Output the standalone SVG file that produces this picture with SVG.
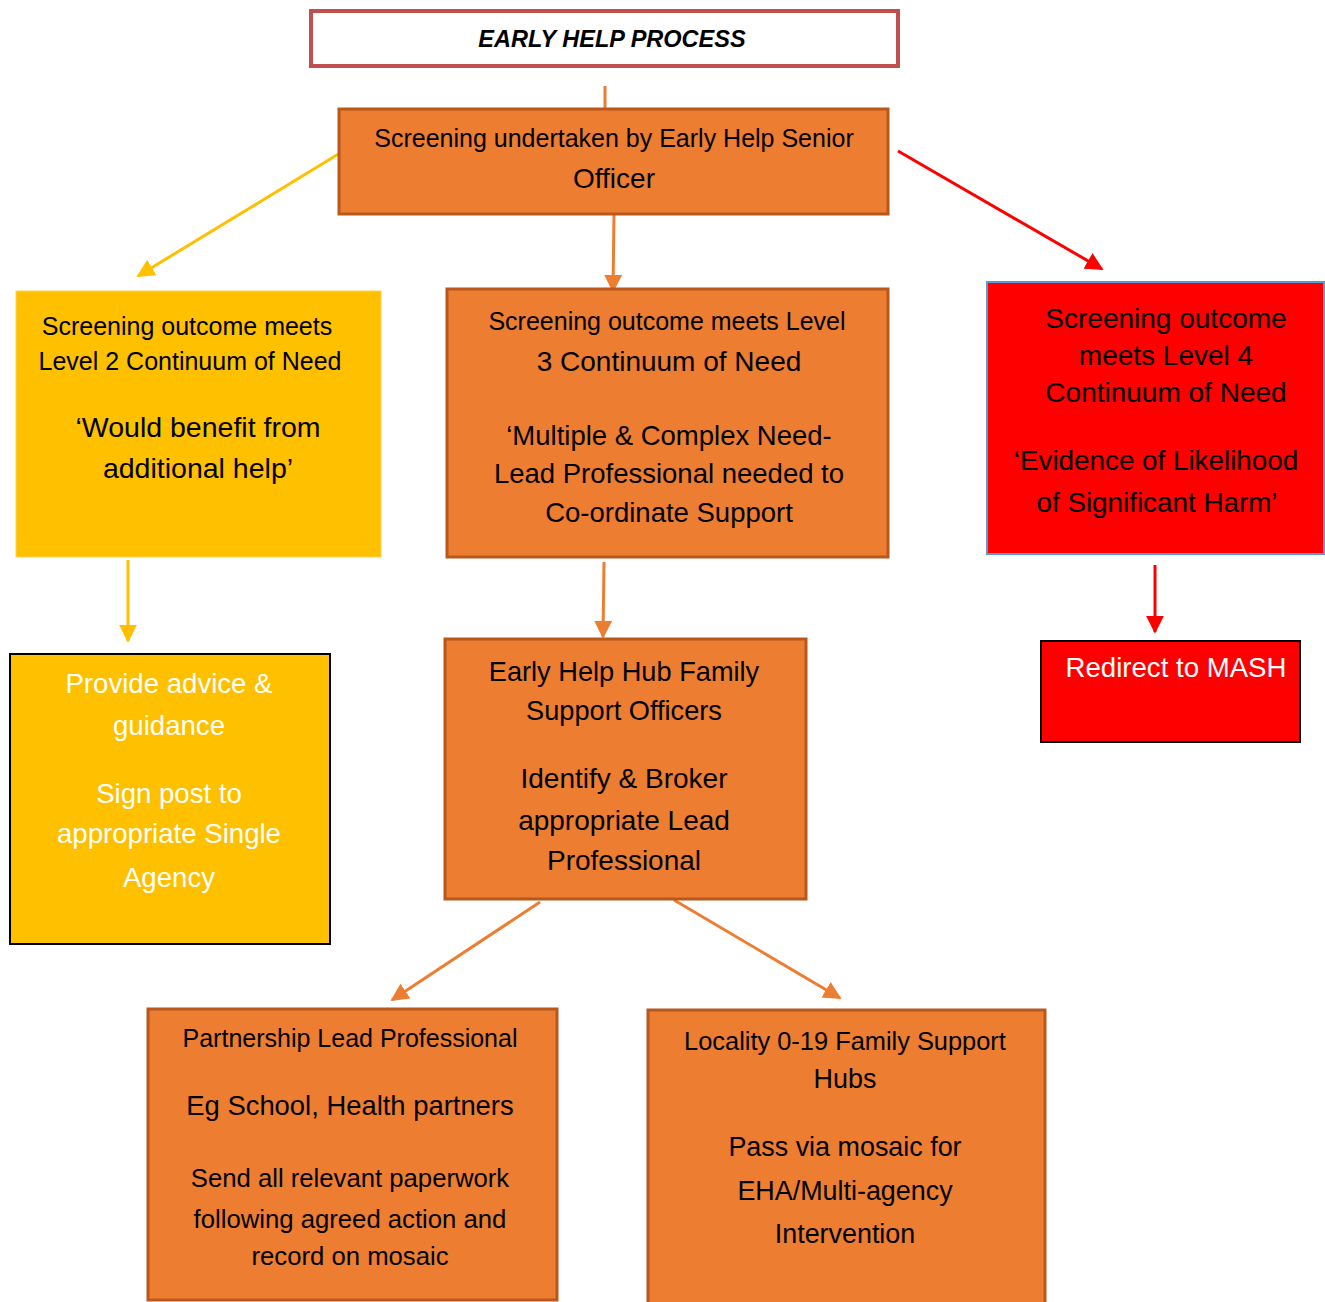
<svg xmlns="http://www.w3.org/2000/svg" width="1325" height="1302" viewBox="0 0 1325 1302">
<style>
text{font-family:"Liberation Sans",Arial,sans-serif;text-anchor:middle;fill:#000}
.w{fill:#fff}
.org{fill:#ED7D31;stroke:#B8581C;stroke-width:3}
.yel{fill:#FFC000;stroke:#FFD34D;stroke-width:1}
.ln{fill:none;stroke-width:3}
</style>
<defs>
<marker id="ay" viewBox="0 0 10 10" refX="9" refY="5" markerWidth="6" markerHeight="6" orient="auto"><path d="M0,0 L10,5 L0,10 z" fill="#FFC000"/></marker>
<marker id="ao" viewBox="0 0 10 10" refX="9" refY="5" markerWidth="6" markerHeight="6" orient="auto"><path d="M0,0 L10,5 L0,10 z" fill="#ED7D31"/></marker>
<marker id="ar" viewBox="0 0 10 10" refX="9" refY="5" markerWidth="6" markerHeight="6" orient="auto"><path d="M0,0 L10,5 L0,10 z" fill="#FF0000"/></marker>
</defs>
<rect width="1325" height="1302" fill="#fff"/>
<g id="connectors">
<line class="ln" x1="605" y1="86" x2="605" y2="109" stroke="#ED7D31"/>
<line class="ln" x1="345" y1="150" x2="138" y2="276" stroke="#FFC000" marker-end="url(#ay)"/>
<line class="ln" x1="898" y1="151" x2="1102" y2="269" stroke="#FF0000" marker-end="url(#ar)"/>
<line class="ln" x1="614" y1="215" x2="613" y2="291" stroke="#ED7D31" marker-end="url(#ao)"/>
<line class="ln" x1="128" y1="560" x2="128" y2="641" stroke="#FFC000" marker-end="url(#ay)"/>
<line class="ln" x1="604" y1="562" x2="603" y2="637" stroke="#ED7D31" marker-end="url(#ao)"/>
<line class="ln" x1="1155" y1="565" x2="1155" y2="632" stroke="#FF0000" marker-end="url(#ar)"/>
<line class="ln" x1="540" y1="902" x2="392" y2="1000" stroke="#ED7D31" marker-end="url(#ao)"/>
<line class="ln" x1="674" y1="900" x2="840" y2="998" stroke="#ED7D31" marker-end="url(#ao)"/>
</g>
<g id="title">
<rect x="311" y="11" width="587" height="55" fill="#fff" stroke="#C0504D" stroke-width="4"/>
<text x="612" y="47" font-size="23.5" font-weight="bold" font-style="italic">EARLY HELP PROCESS</text>
</g>
<g id="screening">
<rect class="org" x="339" y="109" width="549" height="105"/>
<text x="614" y="147" font-size="25">Screening undertaken by Early Help Senior</text>
<text x="614" y="188" font-size="28">Officer</text>
</g>
<g id="level2">
<rect class="yel" x="16" y="291" width="365" height="266"/>
<text x="187" y="335" font-size="25">Screening outcome meets</text>
<text x="190" y="370" font-size="25">Level 2 Continuum of Need</text>
<text x="198" y="437" font-size="28.5">‘Would benefit from</text>
<text x="198" y="478" font-size="28.5">additional help’</text>
</g>
<g id="level3">
<rect class="org" x="447" y="289" width="441" height="268"/>
<text x="667" y="330" font-size="25">Screening outcome meets Level</text>
<text x="669" y="371" font-size="28">3 Continuum of Need</text>
<text x="669" y="445" font-size="27.5">‘Multiple &amp; Complex Need-</text>
<text x="669" y="483" font-size="27.5">Lead Professional needed to</text>
<text x="669" y="522" font-size="27.5">Co-ordinate Support</text>
</g>
<g id="level4">
<rect x="987" y="282" width="337" height="272" fill="#FF0000" stroke="#5B9BD5" stroke-width="2"/>
<text x="1166" y="328" font-size="28">Screening outcome</text>
<text x="1166" y="365" font-size="28">meets Level 4</text>
<text x="1166" y="402" font-size="28">Continuum of Need</text>
<text x="1156" y="470" font-size="27.8">‘Evidence of Likelihood</text>
<text x="1157" y="512" font-size="27.8">of Significant Harm’</text>
</g>
<g id="advice">
<rect x="10" y="654" width="320" height="290" fill="#FFC000" stroke="#000" stroke-width="2"/>
<text class="w" x="169" y="693" font-size="27.6">Provide advice &amp;</text>
<text class="w" x="169" y="735" font-size="27.6">guidance</text>
<text class="w" x="169" y="803" font-size="27.6">Sign post to</text>
<text class="w" x="169" y="843" font-size="27.6">appropriate Single</text>
<text class="w" x="169" y="887" font-size="27.6">Agency</text>
</g>
<g id="hub">
<rect class="org" x="445" y="639" width="361" height="260"/>
<text x="624" y="681" font-size="27.2">Early Help Hub Family</text>
<text x="624" y="720" font-size="27.2">Support Officers</text>
<text x="624" y="788" font-size="28">Identify &amp; Broker</text>
<text x="624" y="830" font-size="28">appropriate Lead</text>
<text x="624" y="870" font-size="28">Professional</text>
</g>
<g id="mash">
<rect x="1041" y="641" width="259" height="101" fill="#FF0000" stroke="#000" stroke-width="2"/>
<text class="w" x="1176" y="677" font-size="27.6">Redirect to MASH</text>
</g>
<g id="partnership">
<rect class="org" x="148" y="1009" width="409" height="291"/>
<text x="350" y="1047" font-size="25">Partnership Lead Professional</text>
<text x="350" y="1115" font-size="27.4">Eg School, Health partners</text>
<text x="350" y="1187" font-size="25.7">Send all relevant paperwork</text>
<text x="350" y="1228" font-size="25.7">following agreed action and</text>
<text x="350" y="1265" font-size="25.7">record on mosaic</text>
</g>
<g id="locality">
<rect class="org" x="648" y="1010" width="397" height="295"/>
<text x="845" y="1050" font-size="25.4">Locality 0-19 Family Support</text>
<text x="845" y="1088" font-size="26.9">Hubs</text>
<text x="845" y="1156" font-size="26.9">Pass via mosaic for</text>
<text x="845" y="1200" font-size="26.9">EHA/Multi-agency</text>
<text x="845" y="1243" font-size="26.9">Intervention</text>
</g>
</svg>
